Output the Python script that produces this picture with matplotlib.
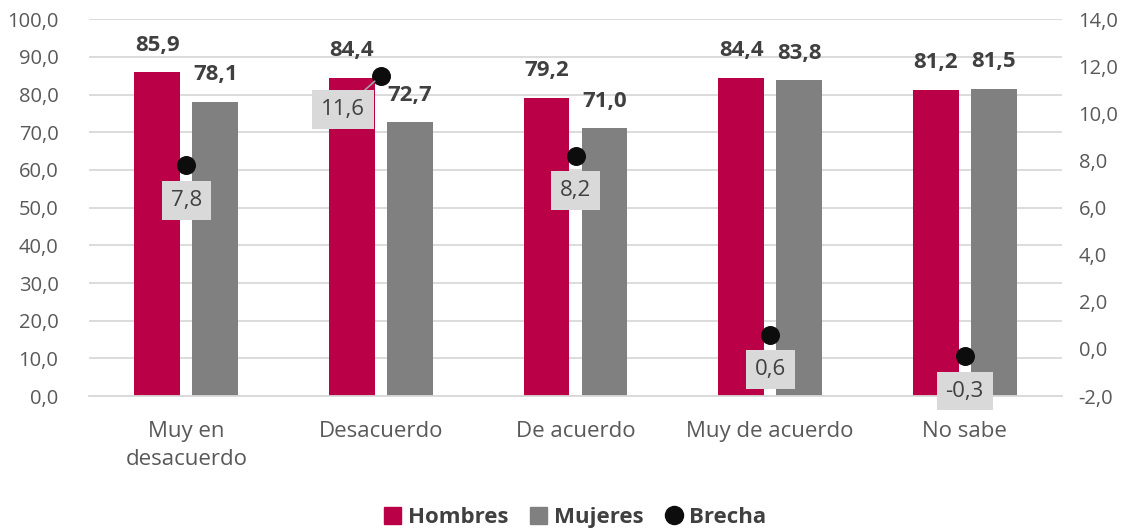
import matplotlib
matplotlib.use("Agg")
import matplotlib.pyplot as plt
from matplotlib.lines import Line2D
from matplotlib.patches import Patch
import numpy as np

plt.rcParams['font.family'] = ['Open Sans', 'DejaVu Sans']

categories = ["Muy en\ndesacuerdo", "Desacuerdo", "De acuerdo", "Muy de acuerdo", "No sabe"]
hombres = [85.9, 84.4, 79.2, 84.4, 81.2]
mujeres = [78.1, 72.7, 71.0, 83.8, 81.5]
brecha = [7.8, 11.6, 8.2, 0.6, -0.3]

left_ticks = np.arange(0, 101, 10)
right_ticks = np.arange(-2, 15, 2)

c_h = "#BA0047"
c_m = "#808080"
c_b = "#0D0D0D"
c_txt = "#595959"
c_lbl = "#404040"


def fmt(v):
    return f"{v:.1f}".replace(".", ",")


fig = plt.figure(figsize=(11.34, 5.31), dpi=100)
ax = fig.add_axes([0.0785, 0.254, 0.858, 0.71])
ax2 = ax.twinx()

x = np.arange(len(categories))
w = 0.236
off = 0.149

ax.bar(x - off, hombres, w, color=c_h, zorder=2)
ax.bar(x + off, mujeres, w, color=c_m, zorder=2)

for xs, vals in ((x - off, hombres), (x + off, mujeres)):
    for xi, v in zip(xs, vals):
        ax.annotate(fmt(v), (xi, v), xytext=(0, 27),
                    textcoords="offset pixels", ha="center", va="center",
                    fontsize=16, fontweight="bold", color=c_lbl)

ax.set_xlim(-0.5, len(categories) - 0.5)
ax.set_ylim(0, 100)
ax.set_yticks(left_ticks)
ax.set_yticklabels([fmt(t) for t in left_ticks])
ax.set_xticks(x)
ax.set_xticklabels(categories, linespacing=1.4)
ax.grid(axis="y", color="#D9D9D9", linewidth=1.3, zorder=0)
ax.set_axisbelow(True)

ax2.set_ylim(-2, 14)
ax2.set_yticks(right_ticks)
ax2.set_yticklabels([fmt(t) for t in right_ticks])

for a in (ax, ax2):
    for s in a.spines.values():
        s.set_visible(False)
    a.tick_params(length=0, labelsize=14.5, colors=c_txt)
ax.spines["bottom"].set_visible(True)
ax.spines["bottom"].set_color("#D9D9D9")
ax.spines["bottom"].set_linewidth(1.3)
ax.tick_params(axis="x", pad=18, labelsize=16)
ax.tick_params(axis="y", pad=22)
ax2.tick_params(axis="y", pad=12)

ax2.scatter(x, brecha, s=160, color=c_b, zorder=5)

label_offsets = [(0, -35), (-38, -34), (0, -35), (0, -35), (0, -35)]
for xi, v, (dx, dy) in zip(x, brecha, label_offsets):
    arrow = None
    if dx != 0:
        arrow = dict(arrowstyle="-", color="#A6A6A6", lw=1.2, shrinkA=0, shrinkB=6)
    ax2.annotate(fmt(v), (xi, v), xytext=(dx, dy),
                 textcoords="offset pixels", ha="center", va="center",
                 fontsize=16, color=c_lbl, zorder=6,
                 bbox=dict(boxstyle="square,pad=0.4", fc="#D9D9D9", ec="none"),
                 arrowprops=arrow)

handles = [
    Patch(color=c_h, label="Hombres"),
    Patch(color=c_m, label="Mujeres"),
    Line2D([], [], marker="o", linestyle="none", color=c_b, markersize=13, label="Brecha"),
]
leg = fig.legend(handles=handles, loc="center", bbox_to_anchor=(0.507, 0.025), ncol=3,
                 frameon=False, handlelength=0.8, handleheight=0.8, handletextpad=0.3,
                 columnspacing=0.95,
                 prop={"size": 16, "weight": "bold"})
for t in leg.get_texts():
    t.set_color(c_lbl)

fig.savefig("out.png", dpi=100)
